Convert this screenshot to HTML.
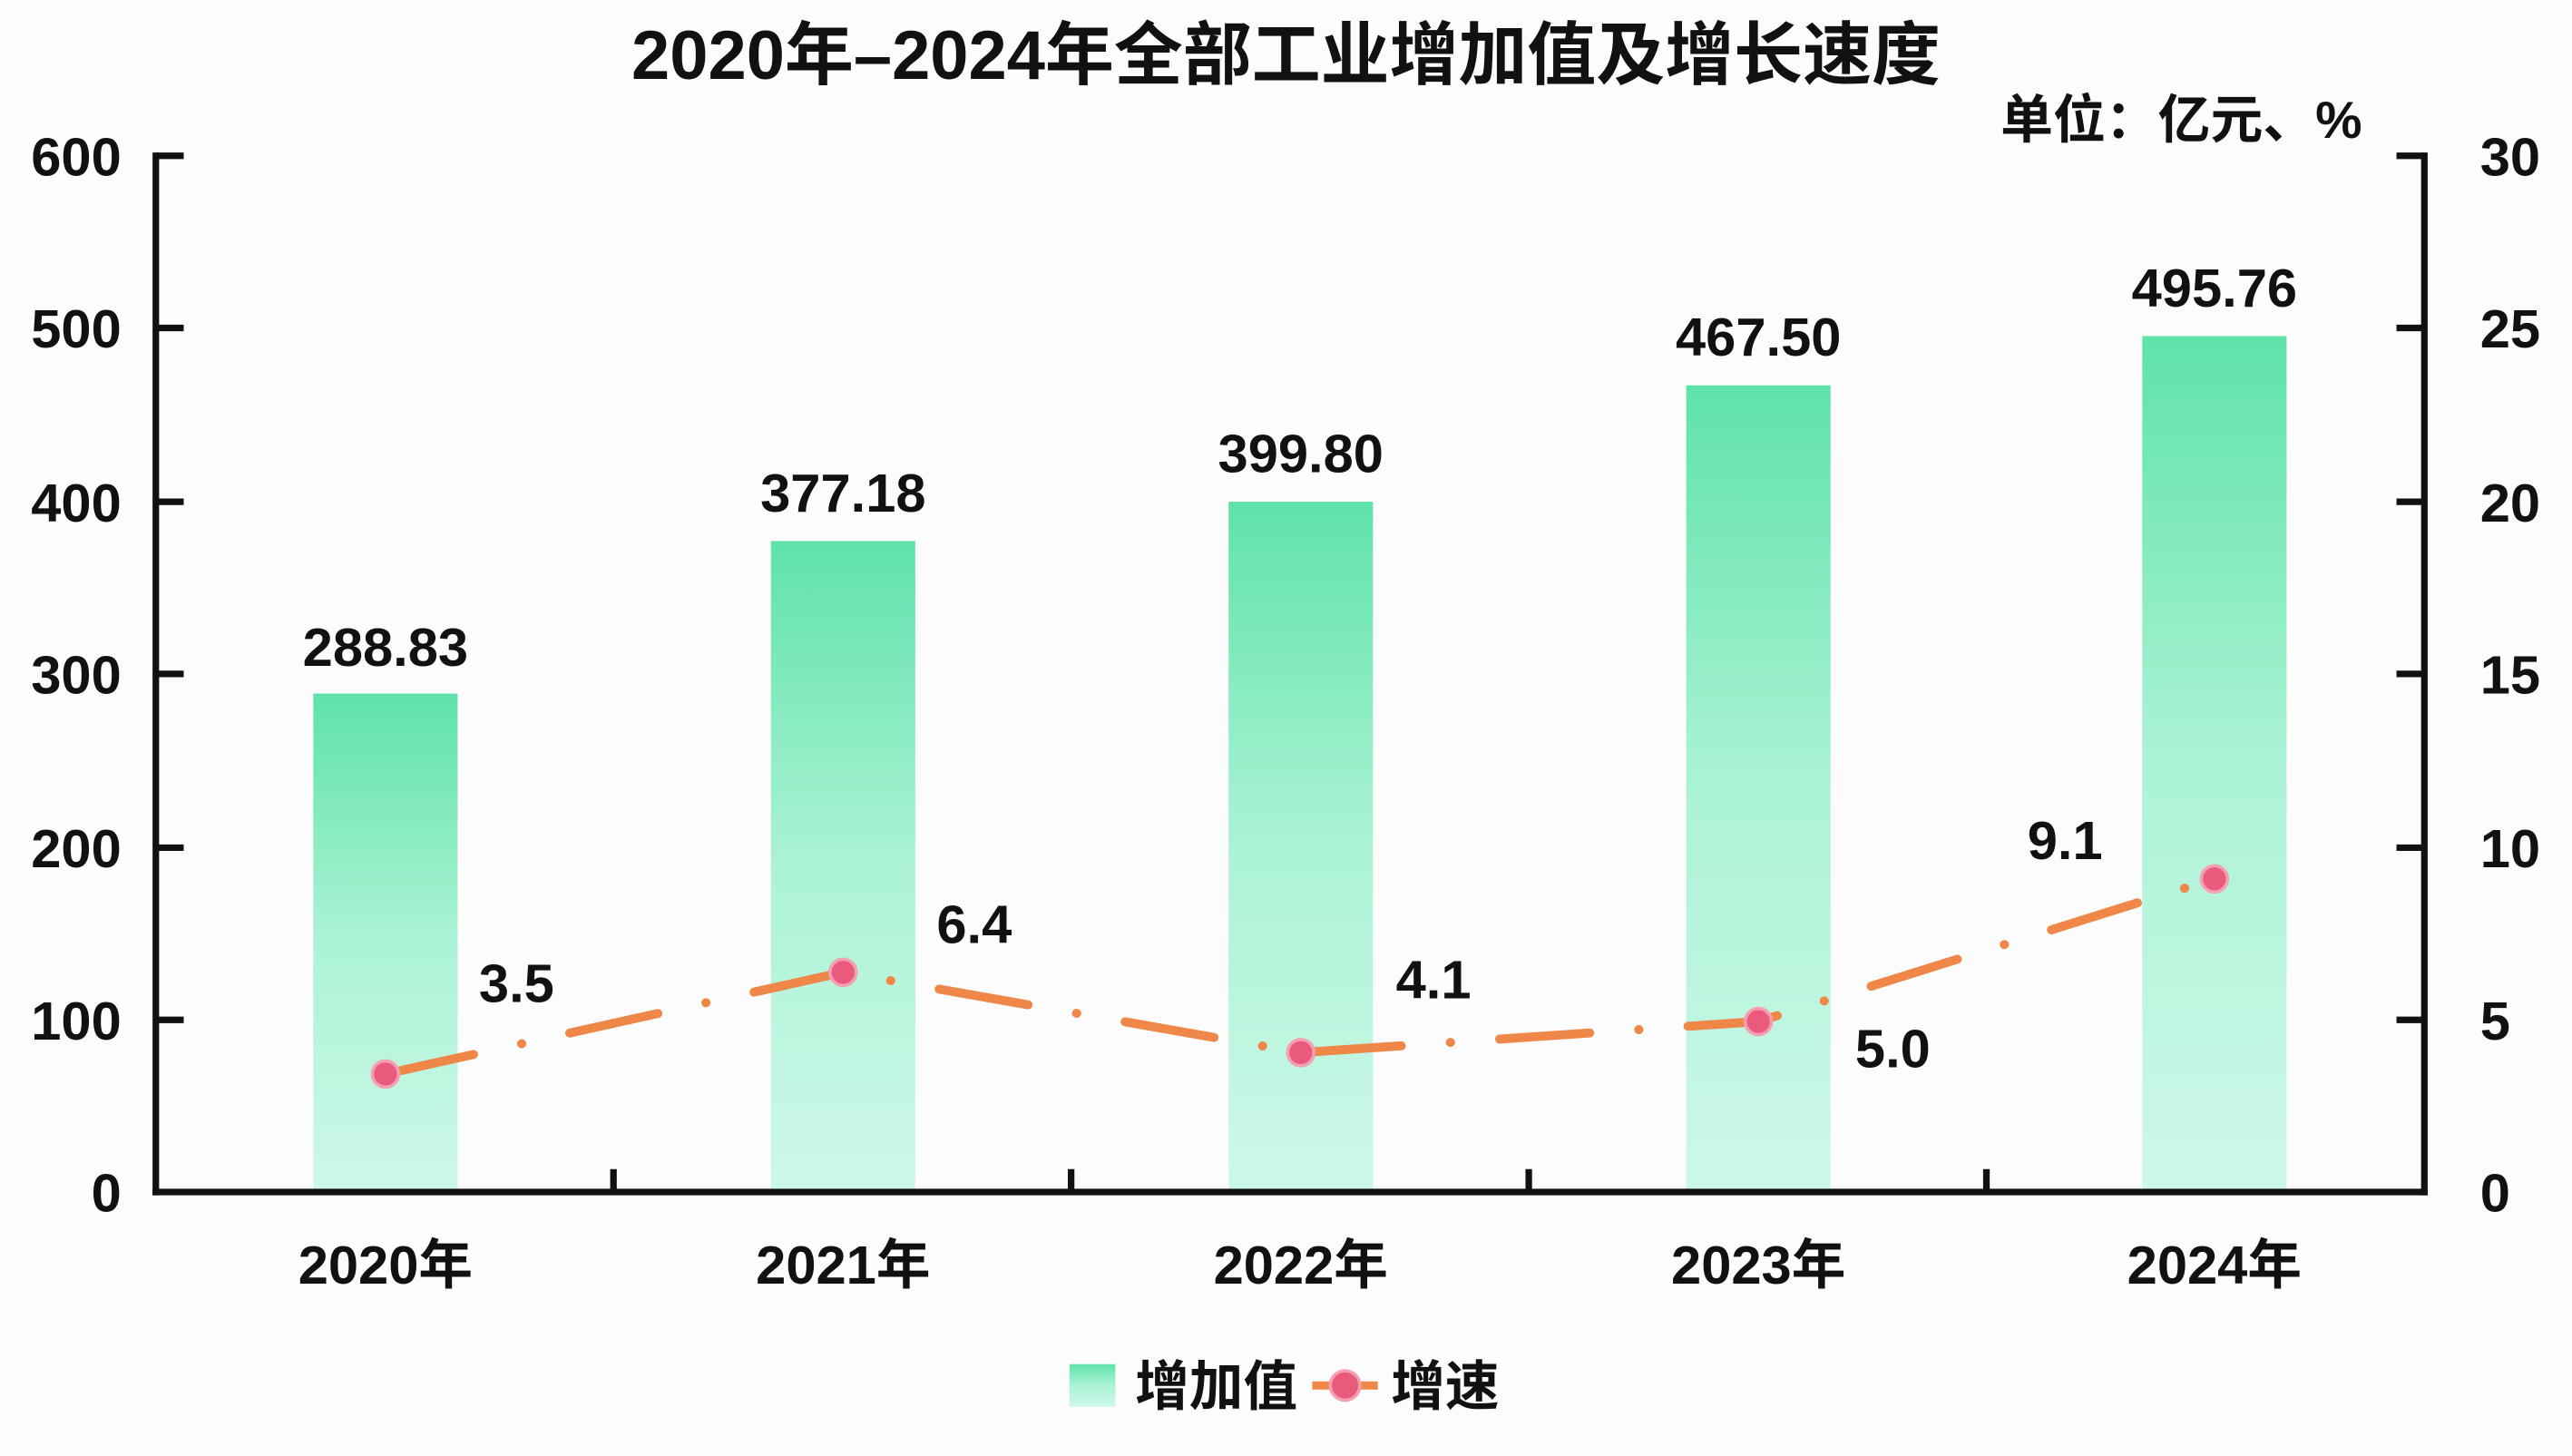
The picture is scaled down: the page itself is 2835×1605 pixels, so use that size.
<!DOCTYPE html>
<html><head><meta charset="utf-8"><style>
html,body{margin:0;padding:0;background:#fbfcfb;}
svg{display:block;}
text{font-family:"Liberation Sans","Noto Sans CJK SC",sans-serif;font-weight:bold;fill:#111;}
</style></head><body>
<svg width="2835" height="1605" viewBox="0 0 1568 888" preserveAspectRatio="none" xmlns="http://www.w3.org/2000/svg">
<defs>
<linearGradient id="g" x1="0" y1="0" x2="0" y2="1">
<stop offset="0" stop-color="#5fe2aa"/>
<stop offset="0.5" stop-color="#acf3d5"/>
<stop offset="1" stop-color="#cdf8e9"/>
</linearGradient>
</defs>
<rect x="0" y="0" width="1568" height="888" fill="#fbfcfb"/>
<text x="784" y="48" font-size="42" text-anchor="middle">2020年–2024年全部工业增加值及增长速度</text>
<text x="1440" y="84" font-size="32" text-anchor="end">单位：亿元、%</text>
<!-- bars -->
<rect x="191" y="423" width="88" height="304" fill="url(#g)"/>
<rect x="470" y="330" width="88" height="397" fill="url(#g)"/>
<rect x="749" y="306" width="88" height="421" fill="url(#g)"/>
<rect x="1028" y="235" width="88" height="492" fill="url(#g)"/>
<rect x="1306" y="205" width="88" height="522" fill="url(#g)"/>
<!-- axes -->
<g stroke="#111" stroke-width="4" fill="none">
<line x1="95" y1="93" x2="95" y2="729"/>
<line x1="1478" y1="93" x2="1478" y2="729"/>
<line x1="93" y1="727" x2="1480" y2="727"/>
<path d="M95 95h17M95 200h17M95 306h17M95 411h17M95 517h17M95 622h17"/>
<path d="M1478 95h-17M1478 200h-17M1478 306h-17M1478 411h-17M1478 517h-17M1478 622h-17"/>
<path d="M374 727v-14M653 727v-14M932 727v-14M1211 727v-14"/>
</g>
<g font-size="33">
<g text-anchor="end">
<text x="74" y="107">600</text><text x="74" y="212">500</text><text x="74" y="318">400</text>
<text x="74" y="423">300</text><text x="74" y="529">200</text><text x="74" y="634">100</text><text x="74" y="739">0</text>
</g>
<text x="1512" y="107">30</text><text x="1512" y="212">25</text><text x="1512" y="318">20</text>
<text x="1512" y="423">15</text><text x="1512" y="529">10</text><text x="1512" y="634">5</text><text x="1512" y="739">0</text>
</g>
<g font-size="33">
<g text-anchor="middle">
<text x="235" y="783">2020年</text><text x="514" y="783">2021年</text><text x="793" y="783">2022年</text>
<text x="1072" y="783">2023年</text><text x="1350" y="783">2024年</text>
<text x="235" y="406">288.83</text><text x="514" y="312">377.18</text><text x="793" y="288">399.80</text>
<text x="1072" y="217">467.50</text><text x="1350" y="187">495.76</text>
</g>
<text x="292" y="611">3.5</text><text x="571" y="575">6.4</text><text x="851" y="609">4.1</text>
<text x="1131" y="651">5.0</text><text x="1236" y="524">9.1</text>
</g>
<polyline points="235,655 514,593 793,642 1072,623 1350,536" fill="none" stroke="#ef8748" stroke-width="5.5" stroke-linecap="round" stroke-dasharray="55,30,0.1,30"/>
<g fill="#ea5a7d" stroke="#f4a0b2" stroke-width="2">
<circle cx="235" cy="655" r="8"/><circle cx="514" cy="593" r="8"/><circle cx="793" cy="642" r="8"/>
<circle cx="1072" cy="623" r="8"/><circle cx="1350" cy="536" r="8"/>
</g>
<!-- legend -->
<rect x="652" y="832" width="28" height="26" fill="url(#g)"/>
<text x="692" y="857" font-size="33">增加值</text>
<line x1="800" y1="845" x2="840" y2="845" stroke="#ef8748" stroke-width="5"/>
<circle cx="820" cy="845" r="9" fill="#ea5a7d" stroke="#f4a0b2" stroke-width="2"/>
<text x="848" y="857" font-size="33">增速</text>
</svg>
</body></html>
